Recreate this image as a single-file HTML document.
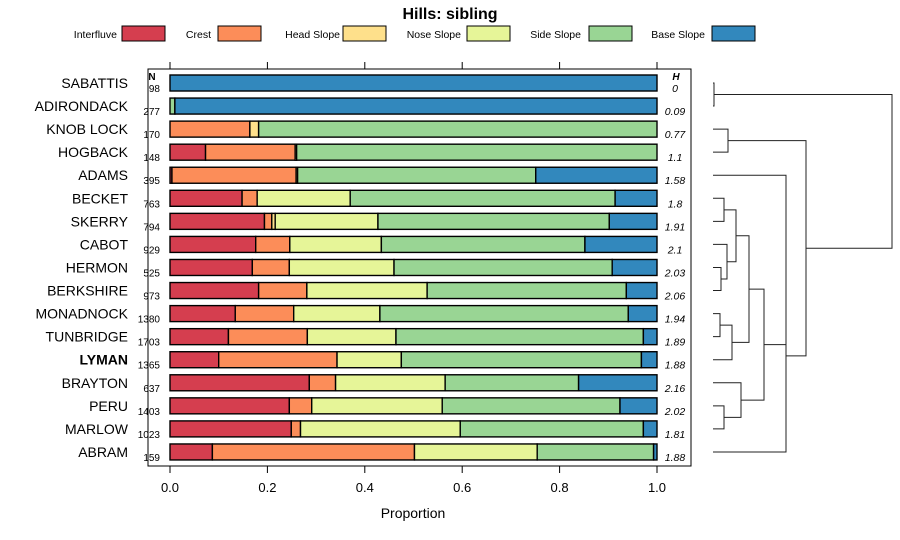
<!DOCTYPE html>
<html><head><meta charset="utf-8"><style>
html,body{margin:0;padding:0;background:#fff;}
svg{display:block;font-family:"Liberation Sans",sans-serif;}
</style></head><body>
<svg id="chart" width="900" height="540" viewBox="0 0 900 540"></svg>
<script>
const hills = ["SABATTIS","ADIRONDACK","KNOB LOCK","HOGBACK","ADAMS","BECKET","SKERRY","CABOT","HERMON","BERKSHIRE","MONADNOCK","TUNBRIDGE","LYMAN","BRAYTON","PERU","MARLOW","ABRAM"];
const classes = ["Interfluve","Crest","Head Slope","Nose Slope","Side Slope","Base Slope"];
const nCounts = [98,277,170,148,395,763,794,929,525,973,1380,1703,1365,637,1403,1023,159];
const hValues = ["0","0.09","0.77","1.1","1.58","1.8","1.91","2.1","2.03","2.06","1.94","1.89","1.88","2.16","2.02","1.81","1.88"];
const interfluve = [0,0,0,0.073,0.004,0.148,0.194,0.176,0.169,0.182,0.134,0.120,0.100,0.286,0.245,0.249,0.087];
const crest      = [0,0,0.164,0.184,0.255,0.031,0.015,0.070,0.076,0.099,0.120,0.162,0.243,0.054,0.046,0.019,0.415];
const headSlope  = [0,0,0.018,0.003,0.003,0,0.007,0,0,0,0,0,0,0,0,0,0];
const noseSlope  = [0,0,0,0,0,0.191,0.211,0.188,0.215,0.247,0.177,0.182,0.132,0.225,0.268,0.328,0.252];
const sideSlope  = [0,0.01,0.818,0.740,0.489,0.544,0.475,0.418,0.448,0.409,0.510,0.508,0.493,0.274,0.365,0.376,0.239];
const baseSlope  = [1,0.99,0,0,0.249,0.086,0.098,0.148,0.092,0.063,0.059,0.028,0.032,0.161,0.076,0.028,0.007];
const xTicks = [0,0.2,0.4,0.6,0.8,1.0];
const xTickLabels = ["0.0","0.2","0.4","0.6","0.8","1.0"];
const colors = ["#D53E4F","#FC8D59","#FEE08B","#E6F598","#99D594","#3288BD"];
const merges = [
 [0,1,714],[2,3,728],[5,6,724],[8,9,721],[7,"n3",727],["n2","n4",736],
 [10,11,720],["n6",12,732],["n5","n7",749],[14,15,724],[13,"n9",741],
 ["n8","n10",764],[4,"n11",786],["n12",16,786],["n1","n13",806],["n0","n14",892]
];

const NS="http://www.w3.org/2000/svg";
const svg=document.getElementById('chart');
function mk(tag,attrs,parent){const e=document.createElementNS(NS,tag);for(const k in attrs)e.setAttribute(k,attrs[k]);(parent||svg).appendChild(e);return e;}
const X0=170,X1=657;
const sx=v=>X0+v*(X1-X0);
const rowY=i=>83+i*23.06;
const BH=16;

let t=mk('text',{x:450,y:19,'text-anchor':'middle','font-size':16,'font-weight':'bold',fill:'#000'});
t.textContent='Hills: sibling';



const legX=[[117,122],[211,218],[340,343],[461,467],[581,589],[705,712]];
classes.forEach((c,i)=>{
  const g=mk('g',{});
  
  
  const tx=mk('text',{x:legX[i][0],y:38,'text-anchor':'end','font-size':10.5,fill:'#000'},g);tx.textContent=c;
  mk('rect',{x:legX[i][1],y:26,width:43,height:15,fill:colors[i],stroke:'#000','stroke-width':1},g);
});

const frame=mk('rect',{x:148,y:69,width:543,height:397,fill:'none',stroke:'#000','stroke-width':1});



xTicks.forEach((v,i)=>{
  const x=sx(v);
  mk('line',{x1:x,y1:62,x2:x,y2:69,stroke:'#000'});
  mk('line',{x1:x,y1:466,x2:x,y2:473,stroke:'#000'});
  const l=mk('text',{x:x,y:492,'text-anchor':'middle','font-size':13,fill:'#000'});
  l.textContent=xTickLabels[i];
  
  
});
let xt=mk('text',{x:413,y:518,'text-anchor':'middle','font-size':14,fill:'#000'});
xt.textContent='Proportion';



let nh=mk('text',{x:152,y:80,'text-anchor':'middle','font-size':10,'font-weight':'bold'});nh.textContent='N';


let hh=mk('text',{x:676,y:80,'text-anchor':'middle','font-size':10,'font-weight':'bold','font-style':'italic'});hh.textContent='H';



const series=[interfluve,crest,headSlope,noseSlope,sideSlope,baseSlope];
hills.forEach((h,i)=>{
  const y=rowY(i);
  const lab=mk('text',{x:128,y:y+5,'text-anchor':'end','font-size':14,fill:'#000','font-weight':h==='LYMAN'?'bold':'normal'});
  lab.textContent=h;
  
  
  const n=mk('text',{x:160,y:y+9,'text-anchor':'end','font-size':10,fill:'#000'});
  n.textContent=nCounts[i];
  
  
  const hv=mk('text',{x:675,y:y+9,'text-anchor':'middle','font-size':10.5,'font-style':'italic',fill:'#000'});
  hv.textContent=hValues[i];
  
  
  let cum=0;
  series.forEach((s,k)=>{
    const v=s[i];
    if(v>0){
      const r=mk('rect',{x:sx(cum),y:y-BH/2,width:sx(cum+v)-sx(cum),height:BH,fill:colors[k],stroke:'#000','stroke-width':1.4});
      
      
    }
    cum+=v;
  });
});

const LEAFX=713;
const nodes=[];
function pos(c){return typeof c==='number'?{x:LEAFX,y:rowY(c)}:nodes[parseInt(c.slice(1))];}
const dg=mk('g',{stroke:'#222','stroke-width':1,fill:'none'});


merges.forEach(m=>{
  const a=pos(m[0]),b=pos(m[1]),hx=m[2];
  mk('polyline',{points:`${a.x},${a.y} ${hx},${a.y} ${hx},${b.y} ${b.x},${b.y}`},dg);
  nodes.push({x:hx,y:(a.y+b.y)/2});
});
</script>
</body></html>
